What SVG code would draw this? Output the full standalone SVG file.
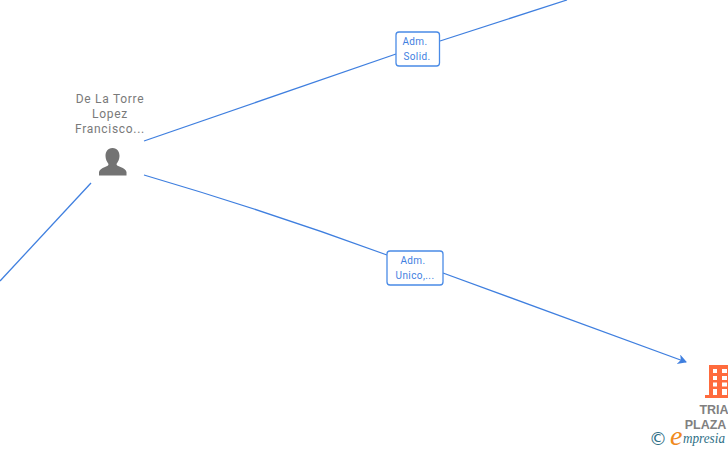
<svg xmlns="http://www.w3.org/2000/svg" width="728" height="450" viewBox="0 0 728 450">
<style>
.c{fill:none;stroke:#3f7fdf;stroke-width:1.3}
.b{fill:#fff;stroke:#4a8be6;stroke-width:1.3}
.l{font-family:Roboto,"Liberation Sans",sans-serif;font-size:10px;fill:#3f7fdf;text-anchor:middle;letter-spacing:.4px}
.n{font-family:Roboto,"Liberation Sans",sans-serif;font-size:12px;fill:#7a7a7a;text-anchor:middle;letter-spacing:.7px}
.t{font-family:"Liberation Sans",sans-serif;font-size:12.500px;font-weight:bold;fill:#808080;text-anchor:middle}
</style>
<defs><marker id="a" markerWidth="11" markerHeight="12" refX="8" refY="5" orient="auto" markerUnits="userSpaceOnUse"><path d="M0 0L9 5L0 10L2.500 5Z" fill="#3f7fdf"/></marker></defs>
<g id="connectors">
<path class="c" d="M144 141L396 54"/>
<path class="c" d="M440 41L567 0"/>
<path class="c" d="M144 175Q270 212 387 255"/>
<path class="c" d="M443 273L686 362" marker-end="url(#a)"/>
<path class="c" d="M91 183L0 281"/>
</g>
<g id="node-person">
<text class="n" x="110" y="103">De La Torre</text>
<text class="n" x="110" y="118">Lopez</text>
<text class="n" x="110" y="133">Francisco...</text>
<path fill="#737373" d="M112.500 148C107.500 148 105.500 152 105.500 156C105.500 159 107 162 108.500 164C108.500 165.500 107.500 166 105 167C101.500 168.200 99.500 170 99 172V175.500H126.500V172C126 170 124 168.200 120.500 167C118 166 116.500 165.500 116.500 164C118 162 119.500 159 119.500 156C119.500 152 117.500 148 112.500 148Z"/>
</g>
<g id="edge-label-1">
<rect class="b" x="396" y="32" width="43.500" height="34" rx="3"/>
<text class="l" x="415" y="45">Adm.</text>
<text class="l" x="417" y="60">Solid.</text>
</g>
<g id="edge-label-2">
<rect class="b" x="387" y="251" width="56" height="34" rx="3"/>
<text class="l" x="413" y="264">Adm.</text>
<text class="l" x="415" y="279">Unico,...</text>
</g>
<g id="node-company">
<path fill="#ff6b3d" d="M709 365H728V395H709ZM705 395H728V398H705Z"/>
<g fill="#fff"><rect x="713" y="369" width="4" height="4"/><rect x="722" y="369" width="5" height="4"/><rect x="713" y="376" width="4" height="4"/><rect x="722" y="376" width="5" height="4"/><rect x="713" y="382.500" width="4" height="4"/><rect x="722" y="382.500" width="5" height="4"/><rect x="713" y="389" width="4" height="6"/><rect x="722" y="389" width="5" height="6"/></g>
<text class="t" x="714" y="414">TRIA</text>
<text class="t" x="705.500" y="429">PLAZA</text>
</g>
<g id="watermark">
<text x="658" y="445" font-family="'DejaVu Sans',sans-serif" font-size="18" fill="#2f6f86" text-anchor="middle">©</text>
<text x="670" y="445" font-family="'Liberation Serif',serif" font-style="italic" font-size="28" fill="#f08a1d">e</text>
<text x="683" y="443" font-family="'Liberation Serif',serif" font-style="italic" font-size="14" fill="#2f6f86" textLength="42" lengthAdjust="spacingAndGlyphs">mpresia</text>
</g>
</svg>
